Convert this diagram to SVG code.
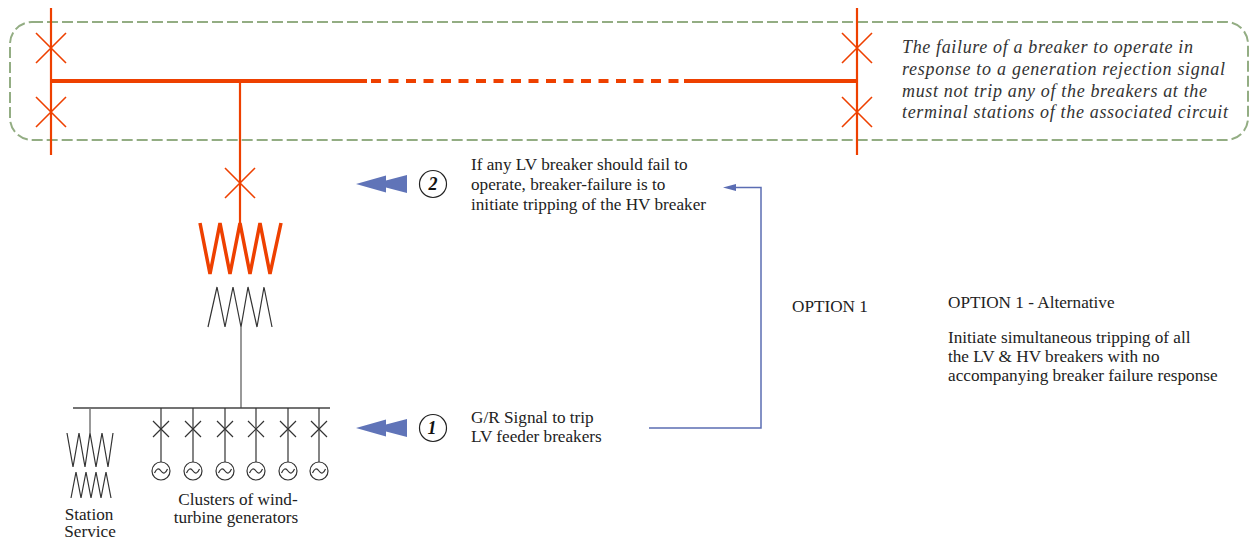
<svg xmlns="http://www.w3.org/2000/svg" width="1249" height="542" viewBox="0 0 1249 542">
<defs>
<style>
.red{stroke:#ee4000;fill:none;stroke-linecap:butt}
.brk{stroke:#ee4000;stroke-width:1.6;fill:none}
.lv{stroke:#333;stroke-width:1.2;fill:none}
.gray{stroke:#777;stroke-width:1.5;fill:none}
.blue{stroke:#5b6db3;stroke-width:1.5;fill:none}
.arrow{fill:#6074b8;stroke:none}
.t{font-family:"Liberation Serif","Times New Roman",serif;font-size:17.2px;fill:#222}
.it{font-family:"Liberation Serif","Times New Roman",serif;font-size:18px;font-style:italic;fill:#333}
.num{font-family:"Liberation Serif","Times New Roman",serif;font-size:18px;font-style:italic;font-weight:bold;fill:#111;text-anchor:middle}
</style>
</defs>
<rect width="1249" height="542" fill="#fff"/>

<g id="boundary">
<rect x="10" y="22" width="1238" height="118" rx="22" ry="22" fill="none" stroke="#93ad83" stroke-width="2" stroke-dasharray="11 4"/>
</g>

<g id="hv-bus">
<line class="red" x1="51" y1="81" x2="367" y2="81" stroke-width="4"/>
<line class="red" x1="371" y1="81" x2="679" y2="81" stroke-width="4" stroke-dasharray="10 7.5"/>
<line class="red" x1="684" y1="81" x2="857" y2="81" stroke-width="4"/>
</g>

<g id="left-terminal">
<line class="red" x1="51" y1="8" x2="51" y2="155" stroke-width="2.2"/>
<path class="brk" d="M36,33 L66,63 M66,33 L36,63"/>
<path class="brk" d="M36,97 L66,127 M66,97 L36,127"/>
</g>

<g id="right-terminal">
<line class="red" x1="857" y1="8" x2="857" y2="155" stroke-width="2.2"/>
<path class="brk" d="M842,33 L872,63 M872,33 L842,63"/>
<path class="brk" d="M842,97 L872,127 M872,97 L842,127"/>
</g>

<g id="hv-feeder">
<line class="red" x1="240" y1="81" x2="240" y2="223" stroke-width="2.2"/>
<path class="brk" d="M225,168 L255,198 M255,168 L225,198"/>
</g>

<g id="transformer">
<polyline class="red" stroke-width="3.5" stroke-linejoin="miter" points="200,223 210,274 220,223 230,274 240,223 250,274 260,223 270,274 281,223"/>
<polyline class="lv" points="208,327 217,287 225,327 233,287 241,327 248,287 257,327 264,287 272,327"/>
<line class="gray" x1="241" y1="327" x2="241" y2="408"/>
</g>

<g id="lv-bus">
<line x1="73" y1="408" x2="330" y2="408" stroke="#444" stroke-width="1.4"/>
</g>

<g id="station-service">
<line class="gray" x1="90" y1="408" x2="90" y2="433"/>
<polyline class="lv" points="67,433 73,467 79,433 85,467 90,433 96,467 102,433 108,467 113,433"/>
<polyline class="lv" points="71,498 76,472 81,498 86,472 91,498 96,472 101,498 106,472 111,498"/>
<text class="t" x="89" y="520" text-anchor="middle">Station</text>
<text class="t" x="90" y="537" text-anchor="middle">Service</text>
</g>

<g id="generators">
<g id="gen1"><line class="lv" x1="161" y1="408" x2="161" y2="462"/><path class="lv" d="M153,421 L169,437 M169,421 L153,437"/><circle class="lv" cx="161" cy="471" r="9"/><path class="lv" stroke-width="1.6" d="M154.5,473 q3,-7 6.5,-2 t6.5,-2"/></g>
<g id="gen2"><line class="lv" x1="193" y1="408" x2="193" y2="462"/><path class="lv" d="M185,421 L201,437 M201,421 L185,437"/><circle class="lv" cx="193" cy="471" r="9"/><path class="lv" stroke-width="1.6" d="M186.5,473 q3,-7 6.5,-2 t6.5,-2"/></g>
<g id="gen3"><line class="lv" x1="225" y1="408" x2="225" y2="462"/><path class="lv" d="M217,421 L233,437 M233,421 L217,437"/><circle class="lv" cx="225" cy="471" r="9"/><path class="lv" stroke-width="1.6" d="M218.5,473 q3,-7 6.5,-2 t6.5,-2"/></g>
<g id="gen4"><line class="lv" x1="256" y1="408" x2="256" y2="462"/><path class="lv" d="M248,421 L264,437 M264,421 L248,437"/><circle class="lv" cx="256" cy="471" r="9"/><path class="lv" stroke-width="1.6" d="M249.5,473 q3,-7 6.5,-2 t6.5,-2"/></g>
<g id="gen5"><line class="lv" x1="288" y1="408" x2="288" y2="462"/><path class="lv" d="M280,421 L296,437 M296,421 L280,437"/><circle class="lv" cx="288" cy="471" r="9"/><path class="lv" stroke-width="1.6" d="M281.5,473 q3,-7 6.5,-2 t6.5,-2"/></g>
<g id="gen6"><line class="lv" x1="319" y1="408" x2="319" y2="462"/><path class="lv" d="M311,421 L327,437 M327,421 L311,437"/><circle class="lv" cx="319" cy="471" r="9"/><path class="lv" stroke-width="1.6" d="M312.5,473 q3,-7 6.5,-2 t6.5,-2"/></g>
<text class="t" x="238" y="505" text-anchor="middle">Clusters of wind-</text>
<text class="t" x="236" y="523" text-anchor="middle">turbine generators</text>
</g>

<g id="note-top">
<text class="it" x="902" y="53" textLength="291" lengthAdjust="spacing">The failure of a breaker to operate in</text>
<text class="it" x="902" y="75" textLength="323" lengthAdjust="spacing">response to a generation rejection signal</text>
<text class="it" x="902" y="96.5" textLength="305" lengthAdjust="spacing">must not trip any of the breakers at the</text>
<text class="it" x="902" y="118" textLength="326" lengthAdjust="spacing">terminal stations of the associated circuit</text>
</g>

<g id="step2">
<polygon class="arrow" points="356,184 386,175.5 386,180.4 407,175 407,193 386,187.6 386,192.5"/>
<circle cx="433" cy="184" r="13.5" fill="#fff" stroke="#222" stroke-width="1.2"/>
<text class="num" x="433" y="190">2</text>
<text class="t" x="471" y="170">If any LV breaker should fail to</text>
<text class="t" x="471" y="190">operate, breaker-failure is to</text>
<text class="t" x="471" y="210">initiate tripping of the HV breaker</text>
</g>

<g id="step1">
<polygon class="arrow" points="356,428 386,419.5 386,424.4 407,419 407,437 386,431.6 386,436.5"/>
<circle cx="433" cy="428" r="13.5" fill="#fff" stroke="#222" stroke-width="1.2"/>
<text class="num" x="432" y="434" font-weight="normal">1</text>
<text class="t" x="471" y="423">G/R Signal to trip</text>
<text class="t" x="471" y="442">LV feeder breakers</text>
</g>

<g id="connectors">
<polyline class="blue" points="649,428 761,428 761,187.5 735,187.5"/>
<path d="M723,187.5 L736,184 L736,191 Z" fill="#5b6db3"/>
</g>

<g id="options">
<text class="t" x="792" y="312">OPTION 1</text>
<text class="t" x="948" y="308">OPTION 1 - Alternative</text>
<text class="t" x="948" y="343">Initiate simultaneous tripping of all</text>
<text class="t" x="948" y="362">the LV &amp; HV breakers with no</text>
<text class="t" x="948" y="381">accompanying breaker failure response</text>
</g>
</svg>
